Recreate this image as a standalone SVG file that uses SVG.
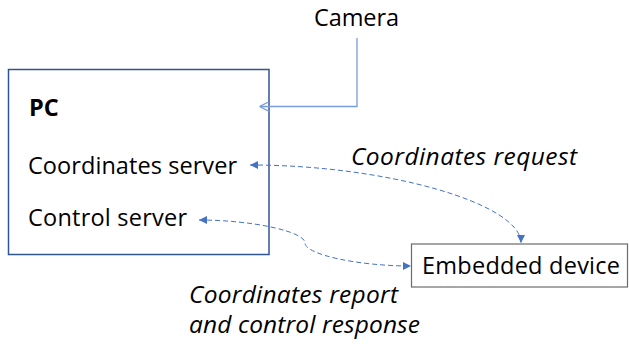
<svg xmlns="http://www.w3.org/2000/svg" width="629" height="345" viewBox="0 0 629 345">
  <style>
    text { font-family: "Open Sans", "Liberation Sans", sans-serif; font-size: 23.5px; fill: #000; }
    .bold { font-weight: bold; }
    .ital { font-style: italic; font-size: 24.5px; }
    .box-pc { fill: #fff; stroke: #2F5597; stroke-width: 1.5; }
    .box-dev { fill: #fff; stroke: #6b6b6b; stroke-width: 1.2; }
    .link { fill: none; stroke: #4472C4; stroke-width: 1; stroke-dasharray: 5 3; }
    .feed { fill: none; stroke: #7A9CDA; stroke-width: 1.3; }
  </style>
  <defs>
    <marker id="tri" viewBox="0 0 10 10" refX="10" refY="5" markerUnits="userSpaceOnUse" markerWidth="9" markerHeight="8" orient="auto-start-reverse">
      <path d="M0,0 L10,5 L0,10 Z" fill="#4472C4" stroke="none"/>
    </marker>
    <marker id="open" viewBox="0 0 10 10" refX="10" refY="5" markerUnits="userSpaceOnUse" markerWidth="10" markerHeight="10" orient="auto">
      <path d="M0,0 L10,5 L0,10" fill="none" stroke="#7A9CDA" stroke-width="1.3"/>
    </marker>
  </defs>

  <!-- PC node -->
  <g id="pc">
    <rect class="box-pc" x="8.5" y="69.5" width="260.5" height="185"/>
    <text class="bold" x="29" y="116">PC</text>
    <text x="28" y="174" textLength="209">Coordinates server</text>
    <text x="28" y="226" textLength="159">Control server</text>
  </g>

  <!-- Camera node -->
  <g id="camera">
    <text x="314" y="26" textLength="85">Camera</text>
  </g>

  <!-- Embedded device node -->
  <g id="embedded">
    <rect class="box-dev" x="411.5" y="244" width="216" height="43"/>
    <text x="422" y="274" textLength="198">Embedded device</text>
  </g>

  <!-- Connectors -->
  <g id="connectors">
    <path class="feed" d="M357,38 V106.5 H259.5" marker-end="url(#open)"/>
    <path class="link" d="M250,165 C386.5,165 521,203.5 521,243" marker-start="url(#tri)" marker-end="url(#tri)"/>
    <path class="link" d="M199,220 C252,220 305,231.5 305,243 C305,254.5 358,266 411,266" marker-start="url(#tri)" marker-end="url(#tri)"/>
  </g>

  <!-- Connector labels -->
  <g id="labels">
    <text class="ital" x="351" y="165" textLength="226">Coordinates request</text>
    <text class="ital" x="189" y="303" textLength="209">Coordinates report</text>
    <text class="ital" x="189" y="333" textLength="231">and control response</text>
  </g>
</svg>
